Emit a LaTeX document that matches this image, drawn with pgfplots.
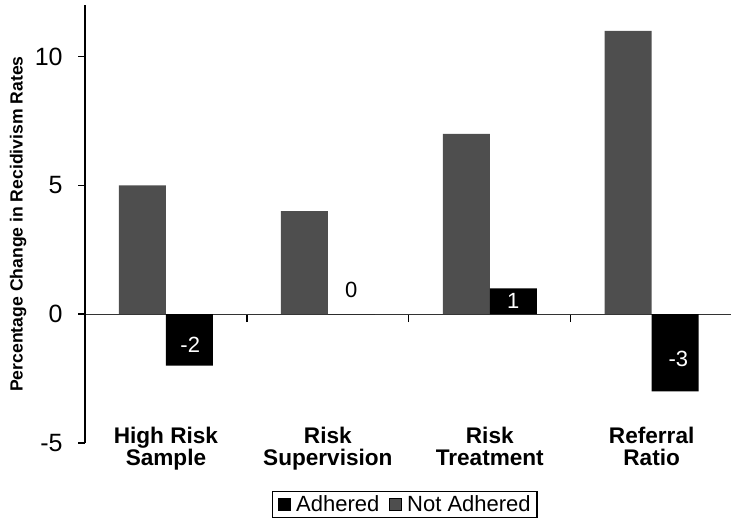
\documentclass[border=0pt]{standalone}
\usepackage{fontspec}
\setmainfont{Liberation Sans}
\usepackage{pgfplots}
\pgfplotsset{compat=1.18}
\definecolor{bargray}{RGB}{78,78,78}
\begin{document}
\begin{tikzpicture}
\begin{axis}[
  name=ax,
  scale only axis,
  width=323pt, height=219pt,
  xmin=-0.5, xmax=3.49,
  ymin=-5, ymax=12,
  axis y line*=left,
  axis x line*=middle,
  y axis line style={line width=0.9pt, black},
  x axis line style={line width=0.6pt, black!80},
  /pgf/number format/assume math mode=true,
  ytick={-5,0,5,10},
  minor ytick={},
  xtick={0,1,2,3},
  xticklabels={High Risk\\Sample, Risk\\Supervision, Risk\\Treatment, Referral\\Ratio},
  x tick label style={align=center, font=\fontsize{11.3}{11}\selectfont\bfseries, anchor=north, inner sep=0pt, yshift=-53pt},
  major x tick style={draw=none},
  minor xtick={0.5,1.5,2.5},
  minor x tick style={draw=black, line width=0.6pt},
  minor tick length=4pt,
  major y tick style={draw=black, line width=0.8pt},
  y tick label style={font=\fontsize{12.5}{14}\selectfont, inner sep=0pt, xshift=-7.5pt},
  tick align=outside,
  major tick length=3.5pt,
  ylabel={Percentage Change in Recidivism Rates},
  ylabel style={at={(axis description cs:0,0.5)}, anchor=center, yshift=33.5pt, font=\fontsize{8.8}{10}\selectfont\bfseries},
  reverse legend,
  legend columns=2,
  legend style={at={(0.495,0)}, anchor=north, yshift=-24pt, draw=black, line width=0.6pt,
    font=\fontsize{11}{12}\selectfont, inner xsep=2.5pt, inner ysep=1.2pt,
    nodes={inner sep=0.6pt},
    /tikz/every even column/.append style={column sep=4pt}},
]
\addplot[ybar, bar width=23.5pt, bar shift=-11.75pt, fill=bargray, draw=none,
  legend image code/.code={\draw[fill=bargray, draw=black, line width=0.4pt] (0pt,-3pt) rectangle (6pt,3pt); \path (8.5pt,0pt);}]
  coordinates {(0,5) (1,4) (2,7) (3,11)};
\addlegendentry{Not Adhered}
\addplot[ybar, bar width=23.5pt, bar shift=11.75pt, fill=black, draw=none,
  legend image code/.code={\draw[fill=black, draw=black, line width=0.4pt] (0pt,-3pt) rectangle (6pt,3pt); \path (8.5pt,0pt);}]
  coordinates {(0,-2) (1,0) (2,1) (3,-3)};
\addlegendentry{Adhered}
\addplot[draw=none, forget plot, nodes near coords, point meta=explicit symbolic,
  every node near coord/.append style={anchor=center, text=white, font=\fontsize{11}{13}\selectfont}]
  coordinates {(0.15,-1.17)[-2] (2.145,0.5)[1] (3.165,-1.75)[-3]};
\addplot[draw=none, forget plot, nodes near coords, point meta=explicit symbolic,
  every node near coord/.append style={anchor=center, text=black, font=\fontsize{11}{13}\selectfont}]
  coordinates {(1.145,0.93)[0]};
\end{axis}
\pgfresetboundingbox
\path[use as bounding box] ([xshift=-42.5pt,yshift=-40.5pt]ax.south west) rectangle ([yshift=2.5pt]ax.north east);
\end{tikzpicture}
\end{document}
